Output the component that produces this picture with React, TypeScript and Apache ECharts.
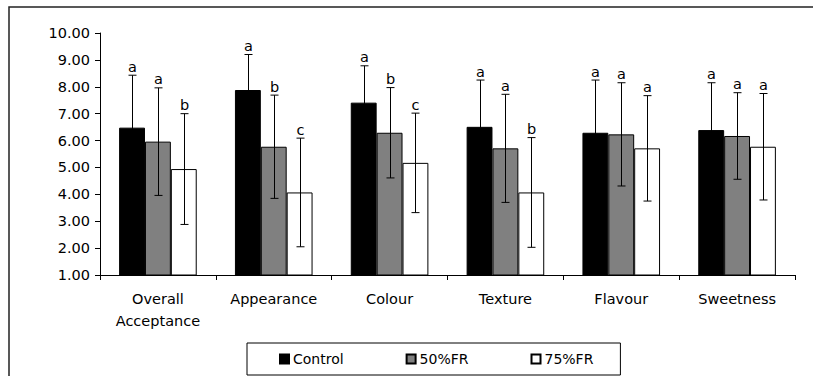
import React, { useEffect, useRef } from "react";
import * as echarts from "echarts";

// Sensory attributes and treatment means ± SD with significance letters
const categories = ["Overall\nAcceptance", "Appearance", "Colour", "Texture", "Flavour", "Sweetness"];
const seriesNames = ["Control", "50%FR", "75%FR"];

const controlMean = [6.48, 7.88, 7.41, 6.51, 6.29, 6.39];
const controlSd = [1.95, 1.32, 1.37, 1.74, 1.96, 1.76];
const controlLetters = ["a", "a", "a", "a", "a", "a"];

const fr50Mean = [5.96, 5.77, 6.29, 5.71, 6.23, 6.17];
const fr50Sd = [2.0, 1.92, 1.68, 2.01, 1.92, 1.61];
const fr50Letters = ["a", "b", "b", "a", "a", "a"];

const fr75Mean = [4.94, 4.07, 5.17, 4.07, 5.71, 5.77];
const fr75Sd = [2.06, 2.02, 1.85, 2.04, 1.96, 1.98];
const fr75Letters = ["b", "c", "c", "b", "a", "a"];

const yTicks = { min: 1, max: 10, interval: 1 };

const FONT = "DejaVu Sans";
const CAT_GAP = 0.33;

const groups = [
  { name: seriesNames[0], mean: controlMean, sd: controlSd, letters: controlLetters, color: "#000000" },
  { name: seriesNames[1], mean: fr50Mean, sd: fr50Sd, letters: fr50Letters, color: "#808080" },
  { name: seriesNames[2], mean: fr75Mean, sd: fr75Sd, letters: fr75Letters, color: "#ffffff" },
];

function errorSeries(gi: number) {
  const g = groups[gi];
  return {
    type: "custom",
    name: g.name + " SD",
    z: 5,
    silent: true,
    encode: { x: 0, y: 1 },
    data: g.mean.map((m, i) => [i, m, g.sd[i], g.letters[i]]),
    renderItem: (params: any, api: any) => {
      const idx = api.value(0);
      const mean = api.value(1);
      const sd = api.value(2);
      const letter = g.letters[idx];
      const catW = api.size([1, 0])[0];
      const barW = (catW * (1 - CAT_GAP)) / 3;
      const center = api.coord([idx, mean]);
      const xc = Math.round(center[0] + (gi - 1) * barW) + 0.5;
      const top = api.coord([idx, mean + sd])[1];
      const bot = api.coord([idx, mean - sd])[1];
      const cap = 4;
      const st = { stroke: "#000", lineWidth: 1 };
      return {
        type: "group",
        children: [
          { type: "line", shape: { x1: xc, y1: top, x2: xc, y2: bot }, style: st },
          { type: "line", shape: { x1: xc - cap, y1: top, x2: xc + cap, y2: top }, style: st },
          { type: "line", shape: { x1: xc - cap, y1: bot, x2: xc + cap, y2: bot }, style: st },
          {
            type: "text",
            x: xc,
            y: top - 1,
            style: {
              text: letter,
              fill: "#000",
              font: `14.5px "${FONT}"`,
              align: "center",
              verticalAlign: "bottom",
            },
          },
        ],
      };
    },
  };
}

export default function App() {
  const ref = useRef<HTMLDivElement>(null);

  useEffect(() => {
    if (!ref.current) return;
    const chart = echarts.init(ref.current, undefined, { renderer: "svg" });
    chart.setOption({
      animation: false,
      backgroundColor: "#ffffff",
      textStyle: { fontFamily: FONT, color: "#000" },
      grid: { left: 100, right: 18, top: 33, bottom: 101 },
      graphic: [
        {
          type: "rect",
          shape: { x: 9, y: 7, width: 820, height: 400 },
          style: { fill: "none", stroke: "#222", lineWidth: 1.5 },
          silent: true,
        },
      ],
      legend: {
        data: seriesNames,
        left: 247,
        top: 343,
        orient: "horizontal",
        icon: "rect",
        itemWidth: 9,
        itemHeight: 9,
        itemGap: 62,
        padding: [9, 27, 9, 32],
        borderColor: "#000",
        borderWidth: 1,
        borderRadius: 0,
        textStyle: { fontFamily: FONT, fontSize: 14, color: "#000", padding: [0, 0, 0, -1] },
      },
      xAxis: {
        type: "category",
        data: categories,
        axisLine: { lineStyle: { color: "#000", width: 1 } },
        axisTick: { show: true, length: 5, lineStyle: { color: "#000" } },
        axisLabel: {
          color: "#000",
          fontFamily: FONT,
          fontSize: 14.5,
          lineHeight: 22,
          margin: 13,
        },
      },
      yAxis: {
        type: "value",
        min: yTicks.min,
        max: yTicks.max,
        interval: yTicks.interval,
        axisLine: { show: true, lineStyle: { color: "#000", width: 1 } },
        axisTick: { show: true, length: 5, lineStyle: { color: "#000" } },
        splitLine: { show: false },
        axisLabel: {
          color: "#000",
          fontFamily: FONT,
          fontSize: 14.5,
          margin: 10,
          formatter: (v: number) => v.toFixed(2),
        },
      },
      series: [
        ...groups.map((g) => ({
          type: "bar",
          name: g.name,
          data: g.mean,
          barGap: "0%",
          barCategoryGap: `${CAT_GAP * 100}%`,
          itemStyle: { color: g.color, borderColor: "#000", borderWidth: 1 },
        })),
        errorSeries(0),
        errorSeries(1),
        errorSeries(2),
      ],
    });
    return () => chart.dispose();
  }, []);

  return (
    <div
      ref={ref}
      style={{ position: "fixed", left: 0, top: 0, width: 813, height: 376 }}
    />
  );
}
